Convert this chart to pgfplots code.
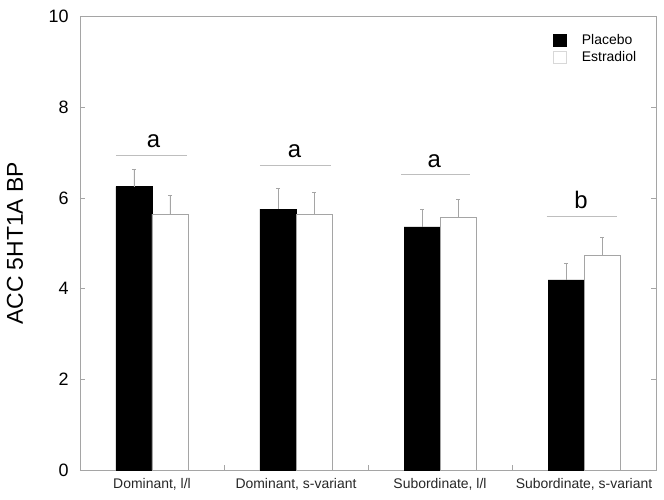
\documentclass[border=0pt]{standalone}
\usepackage{pgfplots}
\pgfplotsset{compat=1.18}
\usepackage{fontspec}
\setmainfont{Liberation Sans}
\definecolor{axgray}{RGB}{165,165,165}
\definecolor{lngray}{RGB}{190,190,190}
\begin{document}
\begin{tikzpicture}
\path[use as bounding box] (-80bp,-30bp) rectangle (584bp,470bp);
\begin{axis}[
  scale only axis, width=576bp, height=453.5bp,
  xmin=-0.5, xmax=3.5, ymin=0, ymax=10,
  clip=false,
  axis line style={axgray, line width=0.7bp},
  tick style={axgray, line width=0.7bp},
  tick align=inside,
  major tick length=5bp,
  xtick pos=left,
  ytick={0,2,4,6,8,10},
  xtick={-0.5,0.5,1.5,2.5,3.5},
  x tick label as interval,
  xticklabels={{Dominant, l/l},{Dominant, s-variant},{Subordinate, l/l},{Subordinate, s-variant}},
  /pgf/number format/assume math mode=true,
  yticklabel style={font=\fontsize{18}{18}\selectfont, xshift=-8bp},
  xticklabel style={font=\fontsize{14}{14}\selectfont, yshift=-5bp, text=black!85},
  ylabel={ACC 5HT1A BP},
  ylabel style={font=\fontsize{23}{23}\selectfont, at={(axis description cs:-0.113,0.5)}, anchor=center, rotate=0},
  legend style={at={(axis description cs:0.82,0.963)}, anchor=north west, draw=none, fill=none,
    inner sep=0pt, font=\fontsize{14}{14}\selectfont, row sep=3.5bp, column sep=15bp,
    nodes={inner sep=1bp}},
  legend cell align=left,
]
\addlegendimage{legend image code/.code={\draw[fill=black,draw=black] (0bp,-6bp) rectangle (13bp,6bp);}}
\addlegendentry{Placebo}
\addlegendimage{legend image code/.code={\draw[fill=white,draw=lngray!60] (0bp,-6bp) rectangle (13bp,6bp);}}
\addlegendentry{Estradiol}

% Placebo bars at category index -0.125
\addplot[ybar, bar width=0.25, bar shift=0, fill=black, draw=black, forget plot,
  error bars/y dir=plus, error bars/y explicit,
  error bars/error bar style={axgray, line width=0.7bp},
  error bars/error mark options={axgray, rotate=90, mark size=2bp, line width=0.7bp}]
  coordinates {(-0.125,6.25) +- (0,0.37) (0.875,5.75) +- (0,0.45) (1.875,5.36) +- (0,0.38) (2.875,4.19) +- (0,0.36)};
% Estradiol bars at category index +0.125
\addplot[ybar, bar width=0.25, bar shift=0, fill=white, draw=axgray, line width=0.7bp, forget plot,
  error bars/y dir=plus, error bars/y explicit,
  error bars/error bar style={axgray, line width=0.7bp},
  error bars/error mark options={axgray, rotate=90, mark size=2bp, line width=0.7bp}]
  coordinates {(0.125,5.64) +- (0,0.41) (1.125,5.64) +- (0,0.49) (2.125,5.58) +- (0,0.39) (3.125,4.73) +- (0,0.39)};

\addplot[lngray, line width=0.8bp, forget plot] coordinates {(-0.25,6.93) (0.24,6.93)};
\addplot[lngray, line width=0.8bp, forget plot] coordinates {(0.75,6.72) (1.24,6.72)};
\addplot[lngray, line width=0.8bp, forget plot] coordinates {(1.73,6.51) (2.21,6.51)};
\addplot[lngray, line width=0.8bp, forget plot] coordinates {(2.74,5.59) (3.23,5.59)};
\node[font=\fontsize{24}{24}\selectfont] at (axis cs:0.01,7.24) {a};
\node[font=\fontsize{24}{24}\selectfont] at (axis cs:0.99,7.02) {a};
\node[font=\fontsize{24}{24}\selectfont] at (axis cs:1.96,6.82) {a};
\node[font=\fontsize{24}{24}\selectfont] at (axis cs:2.98,5.95) {b};
\end{axis}
\end{tikzpicture}
\end{document}
